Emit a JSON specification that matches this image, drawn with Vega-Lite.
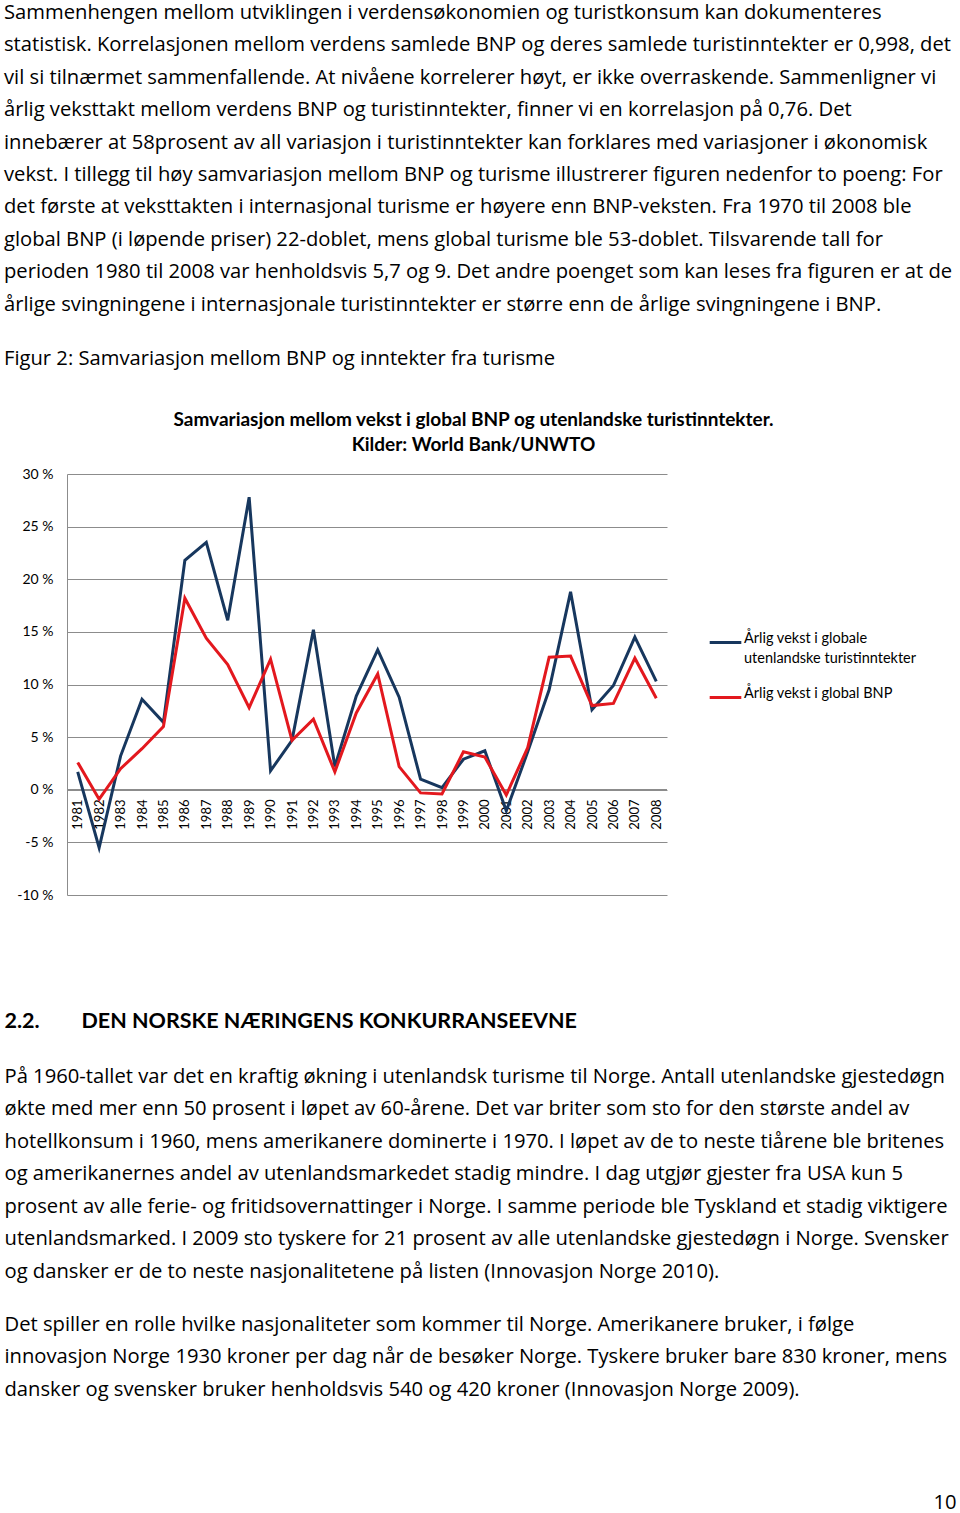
{
  "$schema": "https://vega.github.io/schema/vega-lite/v6.json",
  "width": 600,
  "height": 421,
  "autosize": {"type": "none"},
  "padding": {"left": 67, "top": 474, "right": 293, "bottom": 618},
  "background": "white",
  "config": {"font": "Lato", "view": {"stroke": null}, "style": {"guide-label": {"lineHeight": 20}}},
  "title": {
    "text": [
      "Sammenhengen mellom utviklingen i verdensøkonomien og turistkonsum kan dokumenteres",
      "statistisk. Korrelasjonen mellom verdens samlede BNP og deres samlede turistinntekter er 0,998, det",
      "vil si tilnærmet sammenfallende. At nivåene korrelerer høyt, er ikke overraskende. Sammenligner vi",
      "årlig veksttakt mellom verdens BNP og turistinntekter, finner vi en korrelasjon på 0,76. Det",
      "innebærer at 58prosent av all variasjon i turistinntekter kan forklares med variasjoner i økonomisk",
      "vekst. I tillegg til høy samvariasjon mellom BNP og turisme illustrerer figuren nedenfor to poeng: For",
      "det første at veksttakten i internasjonal turisme er høyere enn BNP-veksten. Fra 1970 til 2008 ble",
      "global BNP (i løpende priser) 22-doblet, mens global turisme ble 53-doblet. Tilsvarende tall for",
      "perioden 1980 til 2008 var henholdsvis 5,7 og 9. Det andre poenget som kan leses fra figuren er at de",
      "årlige svingningene i internasjonale turistinntekter er større enn de årlige svingningene i BNP."
    ],
    "subtitle": "Figur 2: Samvariasjon mellom BNP og inntekter fra turisme",
    "anchor": "start",
    "frame": "group",
    "dx": -63,
    "offset": 41,
    "font": "Open Sans",
    "fontSize": 20.2,
    "fontWeight": "normal",
    "color": "black",
    "lineHeight": 32.4,
    "subtitleFont": "Open Sans",
    "subtitleFontSize": 20.2,
    "subtitleColor": "black",
    "subtitlePadding": 34
  },
  "data": {
    "values": [
      {"år": "1981", "serie": "Årlig vekst i globale utenlandske turistinntekter", "vekst": 1.7},
      {"år": "1982", "serie": "Årlig vekst i globale utenlandske turistinntekter", "vekst": -5.5},
      {"år": "1983", "serie": "Årlig vekst i globale utenlandske turistinntekter", "vekst": 3.2},
      {"år": "1984", "serie": "Årlig vekst i globale utenlandske turistinntekter", "vekst": 8.6},
      {"år": "1985", "serie": "Årlig vekst i globale utenlandske turistinntekter", "vekst": 6.4},
      {"år": "1986", "serie": "Årlig vekst i globale utenlandske turistinntekter", "vekst": 21.8},
      {"år": "1987", "serie": "Årlig vekst i globale utenlandske turistinntekter", "vekst": 23.5},
      {"år": "1988", "serie": "Årlig vekst i globale utenlandske turistinntekter", "vekst": 16.1},
      {"år": "1989", "serie": "Årlig vekst i globale utenlandske turistinntekter", "vekst": 27.8},
      {"år": "1990", "serie": "Årlig vekst i globale utenlandske turistinntekter", "vekst": 1.8},
      {"år": "1991", "serie": "Årlig vekst i globale utenlandske turistinntekter", "vekst": 4.7},
      {"år": "1992", "serie": "Årlig vekst i globale utenlandske turistinntekter", "vekst": 15.2},
      {"år": "1993", "serie": "Årlig vekst i globale utenlandske turistinntekter", "vekst": 2.2},
      {"år": "1994", "serie": "Årlig vekst i globale utenlandske turistinntekter", "vekst": 8.9},
      {"år": "1995", "serie": "Årlig vekst i globale utenlandske turistinntekter", "vekst": 13.3},
      {"år": "1996", "serie": "Årlig vekst i globale utenlandske turistinntekter", "vekst": 8.8},
      {"år": "1997", "serie": "Årlig vekst i globale utenlandske turistinntekter", "vekst": 1.0},
      {"år": "1998", "serie": "Årlig vekst i globale utenlandske turistinntekter", "vekst": 0.2},
      {"år": "1999", "serie": "Årlig vekst i globale utenlandske turistinntekter", "vekst": 2.9},
      {"år": "2000", "serie": "Årlig vekst i globale utenlandske turistinntekter", "vekst": 3.7},
      {"år": "2001", "serie": "Årlig vekst i globale utenlandske turistinntekter", "vekst": -2.0},
      {"år": "2002", "serie": "Årlig vekst i globale utenlandske turistinntekter", "vekst": 3.6},
      {"år": "2003", "serie": "Årlig vekst i globale utenlandske turistinntekter", "vekst": 9.5},
      {"år": "2004", "serie": "Årlig vekst i globale utenlandske turistinntekter", "vekst": 18.8},
      {"år": "2005", "serie": "Årlig vekst i globale utenlandske turistinntekter", "vekst": 7.6},
      {"år": "2006", "serie": "Årlig vekst i globale utenlandske turistinntekter", "vekst": 9.9},
      {"år": "2007", "serie": "Årlig vekst i globale utenlandske turistinntekter", "vekst": 14.5},
      {"år": "2008", "serie": "Årlig vekst i globale utenlandske turistinntekter", "vekst": 10.3},
      {"år": "1981", "serie": "Årlig vekst i global BNP", "vekst": 2.6},
      {"år": "1982", "serie": "Årlig vekst i global BNP", "vekst": -0.9},
      {"år": "1983", "serie": "Årlig vekst i global BNP", "vekst": 2.0},
      {"år": "1984", "serie": "Årlig vekst i global BNP", "vekst": 3.9},
      {"år": "1985", "serie": "Årlig vekst i global BNP", "vekst": 6.0},
      {"år": "1986", "serie": "Årlig vekst i global BNP", "vekst": 18.2},
      {"år": "1987", "serie": "Årlig vekst i global BNP", "vekst": 14.4},
      {"år": "1988", "serie": "Årlig vekst i global BNP", "vekst": 11.9},
      {"år": "1989", "serie": "Årlig vekst i global BNP", "vekst": 7.8},
      {"år": "1990", "serie": "Årlig vekst i global BNP", "vekst": 12.4},
      {"år": "1991", "serie": "Årlig vekst i global BNP", "vekst": 4.7},
      {"år": "1992", "serie": "Årlig vekst i global BNP", "vekst": 6.7},
      {"år": "1993", "serie": "Årlig vekst i global BNP", "vekst": 1.7},
      {"år": "1994", "serie": "Årlig vekst i global BNP", "vekst": 7.3},
      {"år": "1995", "serie": "Årlig vekst i global BNP", "vekst": 11.0},
      {"år": "1996", "serie": "Årlig vekst i global BNP", "vekst": 2.2},
      {"år": "1997", "serie": "Årlig vekst i global BNP", "vekst": -0.3},
      {"år": "1998", "serie": "Årlig vekst i global BNP", "vekst": -0.4},
      {"år": "1999", "serie": "Årlig vekst i global BNP", "vekst": 3.6},
      {"år": "2000", "serie": "Årlig vekst i global BNP", "vekst": 3.1},
      {"år": "2001", "serie": "Årlig vekst i global BNP", "vekst": -0.5},
      {"år": "2002", "serie": "Årlig vekst i global BNP", "vekst": 4.0},
      {"år": "2003", "serie": "Årlig vekst i global BNP", "vekst": 12.6},
      {"år": "2004", "serie": "Årlig vekst i global BNP", "vekst": 12.7},
      {"år": "2005", "serie": "Årlig vekst i global BNP", "vekst": 8.0},
      {"år": "2006", "serie": "Årlig vekst i global BNP", "vekst": 8.2},
      {"år": "2007", "serie": "Årlig vekst i global BNP", "vekst": 12.5},
      {"år": "2008", "serie": "Årlig vekst i global BNP", "vekst": 8.7}
    ]
  },
  "layer": [
    {
      "mark": {"type": "rule", "color": "#8c8c8c", "strokeWidth": 1},
      "encoding": {
        "y": {
          "datum": 0, "type": "quantitative",
          "axis": {
            "orient": "left", "domain": false, "ticks": false, "labels": false, "grid": false,
            "title": [
              "Det spiller en rolle hvilke nasjonaliteter som kommer til Norge. Amerikanere bruker, i følge",
              "innovasjon Norge 1930 kroner per dag når de besøker Norge. Tyskere bruker bare 830 kroner, mens",
              "dansker og svensker bruker henholdsvis 540 og 420 kroner (Innovasjon Norge 2009)."
            ],
            "titleX": -63, "titleY": 856, "titleAlign": "left", "titleAnchor": null, "titleAngle": 0,
            "titleBaseline": "alphabetic", "titleFont": "Open Sans", "titleFontSize": 20.2, "titleFontWeight": "normal",
            "titleColor": "black", "titleLineHeight": 32.5, "titleLimit": 2000
          }
        }
      }
    },
    {
      "transform": [{"filter": "datum.serie == 'Årlig vekst i globale utenlandske turistinntekter'"}],
      "mark": {"type": "line", "strokeWidth": 3},
      "encoding": {
        "x": {
          "field": "år", "type": "ordinal",
          "axis": {
            "orient": "bottom", "offset": -106, "domain": false, "ticks": false, "grid": false,
            "labelAngle": -90, "labelPadding": 10, "labelFontSize": 13, "labelFont": "Lato", "labelColor": "black",
            "title": [
              "På 1960-tallet var det en kraftig økning i utenlandsk turisme til Norge. Antall utenlandske gjestedøgn",
              "økte med mer enn 50 prosent i løpet av 60-årene. Det var briter som sto for den største andel av",
              "hotellkonsum i 1960, mens amerikanere dominerte i 1970. I løpet av de to neste tiårene ble britenes",
              "og amerikanernes andel av utenlandsmarkedet stadig mindre. I dag utgjør gjester fra USA kun 5",
              "prosent av alle ferie- og fritidsovernattinger i Norge. I samme periode ble Tyskland et stadig viktigere",
              "utenlandsmarked. I 2009 sto tyskere for 21 prosent av alle utenlandske gjestedøgn i Norge. Svensker",
              "og dansker er de to neste nasjonalitetene på listen (Innovasjon Norge 2010)."
            ],
            "titleX": -63, "titleY": 293, "titleAlign": "left", "titleAnchor": null, "titleAngle": 0,
            "titleBaseline": "alphabetic", "titleFont": "Open Sans", "titleFontSize": 20.2, "titleFontWeight": "normal",
            "titleColor": "black", "titleLineHeight": 32.5, "titleLimit": 2000
          }
        },
        "y": {
          "field": "vekst", "type": "quantitative",
          "scale": {"domain": [-10, 30], "nice": false, "zero": false},
          "axis": {
            "orient": "left", "values": [-10, -5, 0, 5, 10, 15, 20, 25, 30],
            "grid": true, "gridColor": "#8c8c8c", "gridWidth": 1, "gridOpacity": 1,
            "domain": true, "domainColor": "#8c8c8c", "domainWidth": 1,
            "ticks": false, "labelPadding": 14, "labelFontSize": 14, "labelFont": "Lato", "labelColor": "black",
            "labelExpr": "datum.value + ' %'",
            "title": ["Samvariasjon mellom vekst i global BNP og utenlandske turistinntekter.", "Kilder: World Bank/UNWTO"],
            "titleX": 406, "titleY": -55, "titleAngle": 0, "titleAlign": "center", "titleAnchor": null,
            "titleBaseline": "middle", "titleFont": "Lato", "titleFontSize": 19, "titleFontWeight": "bold",
            "titleColor": "black", "titleLineHeight": 25, "titleLimit": 2000
          }
        },
        "color": {
          "field": "serie", "type": "nominal",
          "scale": {
            "domain": ["Årlig vekst i globale utenlandske turistinntekter", "Årlig vekst i global BNP"],
            "range": ["#17375E", "#E3181E"]
          },
          "legend": {
            "orient": "none", "legendX": 641, "legendY": 151, "title": null,
            "symbolType": "stroke", "symbolSize": 1000, "symbolStrokeWidth": 3,
            "labelFont": "Lato", "labelFontSize": 14.5, "labelColor": "black", "labelOffset": 1, "labelLimit": 400,
            "labelBaseline": "alphabetic", "rowPadding": 15,
            "labelExpr": "datum.label == 'Årlig vekst i globale utenlandske turistinntekter' ? ['Årlig vekst i globale', 'utenlandske turistinntekter'] : datum.label"
          }
        }
      }
    },
    {
      "transform": [{"filter": "datum.serie == 'Årlig vekst i global BNP'"}],
      "mark": {"type": "line", "strokeWidth": 3},
      "encoding": {
        "x": {
          "field": "år", "type": "ordinal",
          "axis": {
            "orient": "bottom", "domain": false, "ticks": false, "labels": false, "grid": false,
            "title": "2.2.\u00a0\u00a0\u00a0\u00a0\u00a0\u00a0\u00a0\u00a0DEN NORSKE NÆRINGENS KONKURRANSEEVNE",
            "titleX": -63, "titleY": 126, "titleAlign": "left", "titleAnchor": null, "titleAngle": 0,
            "titleBaseline": "middle", "titleFont": "Lato", "titleFontSize": 21.5, "titleFontWeight": "bold",
            "titleColor": "black", "titleLimit": 2000
          }
        },
        "y": {
          "field": "vekst", "type": "quantitative",
          "axis": {
            "orient": "right", "domain": false, "ticks": false, "labels": false, "grid": false,
            "title": "10",
            "titleX": 289, "titleY": 1028, "titleAlign": "right", "titleAnchor": null, "titleAngle": 0,
            "titleBaseline": "middle", "titleFont": "Open Sans", "titleFontSize": 20.2, "titleFontWeight": "normal",
            "titleColor": "black"
          }
        },
        "color": {"field": "serie", "type": "nominal"}
      }
    }
  ],
  "resolve": {"axis": {"x": "independent", "y": "independent"}}
}
